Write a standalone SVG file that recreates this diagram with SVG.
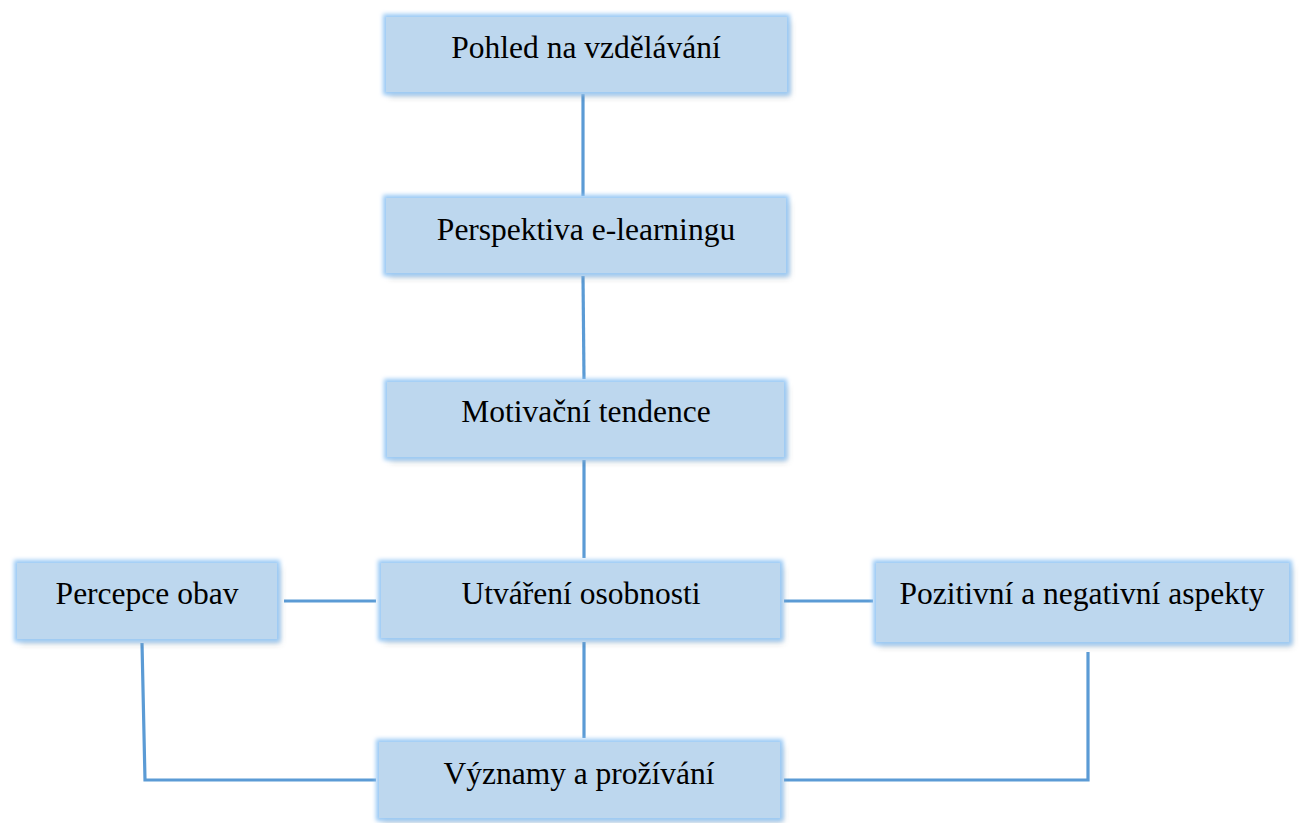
<svg xmlns="http://www.w3.org/2000/svg" width="1301" height="823" viewBox="0 0 1301 823">
<defs>
<filter id="glow" x="-10%" y="-30%" width="120%" height="170%">
<feGaussianBlur in="SourceAlpha" stdDeviation="3" result="b"/>
<feOffset in="b" dx="3" dy="4" result="o"/>
<feFlood flood-color="#000" flood-opacity="0.35"/>
<feComposite in2="o" operator="in" result="sh"/>
<feMorphology in="SourceAlpha" operator="dilate" radius="3" result="d"/>
<feGaussianBlur in="d" stdDeviation="2" result="db"/>
<feFlood flood-color="#99C9F5" flood-opacity="1"/>
<feComposite in2="db" operator="in" result="gl"/>
<feMerge><feMergeNode in="sh"/><feMergeNode in="gl"/><feMergeNode in="SourceGraphic"/></feMerge>
</filter>
</defs>
<style>
.box{fill:#BDD7EE;filter:url(#glow);}
.t{font-family:"Liberation Serif","Times New Roman",serif;font-size:31.5px;fill:#000;text-anchor:middle;}
.c{stroke:#5B9BD5;stroke-width:3.2;fill:none;}
</style>
<rect width="1301" height="823" fill="#fff"/>
<g id="connectors">
<line class="c" x1="583" y1="94" x2="583" y2="196"/>
<line class="c" x1="583" y1="276" x2="584" y2="379"/>
<line class="c" x1="584" y1="460" x2="584" y2="558"/>
<line class="c" x1="584" y1="642" x2="584" y2="738"/>
<line class="c" x1="284" y1="601" x2="376" y2="601"/>
<line class="c" x1="784" y1="601" x2="873" y2="601"/>
<polyline class="c" points="142,643 145,780 376,780"/>
<polyline class="c" points="1088,652 1088,780 784,780"/>
</g>
<g id="n1"><rect class="box" x="386" y="17" width="401" height="75"/><text class="t" x="586" y="58">Pohled na vzdělávání</text></g>
<g id="n2"><rect class="box" x="386" y="198" width="400" height="75"/><text class="t" x="586" y="240">Perspektiva e-learningu</text></g>
<g id="n3"><rect class="box" x="387" y="382" width="397" height="75"/><text class="t" x="586" y="422">Motivační tendence</text></g>
<g id="n4"><rect class="box" x="381" y="563" width="399" height="75"/><text class="t" x="581" y="604">Utváření osobnosti</text></g>
<g id="n5"><rect class="box" x="17" y="563" width="260" height="76"/><text class="t" x="147" y="604">Percepce obav</text></g>
<g id="n6"><rect class="box" x="876" y="563" width="413" height="79"/><text class="t" x="1082" y="604">Pozitivní a negativní aspekty</text></g>
<g id="n7"><rect class="box" x="379" y="742" width="401" height="76"/><text class="t" x="579" y="784">Významy a prožívání</text></g>
</svg>
